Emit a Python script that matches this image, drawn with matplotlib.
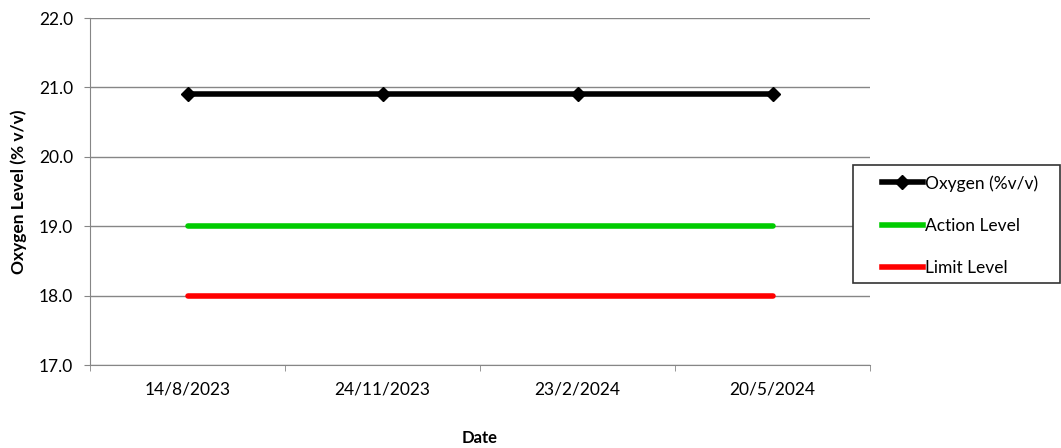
import numpy as np
import matplotlib.pyplot as plt
from matplotlib.lines import Line2D
from matplotlib.patches import Rectangle

plt.rcParams['font.family'] = ['Lato', 'DejaVu Sans']

dates = ["14/8/2023", "24/11/2023", "23/2/2024", "20/5/2024"]
oxygen = [20.9, 20.9, 20.9, 20.9]
action_level = [19.0, 19.0, 19.0, 19.0]
limit_level = [18.0, 18.0, 18.0, 18.0]

W, H = 1061, 448
fig = plt.figure(figsize=(W / 100, H / 100), dpi=100)
ax = fig.add_axes([90 / W, 1 - 365 / H, 780 / W, 347 / H])

x = np.arange(len(dates))
ax.plot(x, oxygen, color="black", lw=4, marker="D", ms=7, label="Oxygen (%v/v)", zorder=3)
ax.plot(x, action_level, color="#00CC00", lw=4, solid_capstyle="round", label="Action Level")
ax.plot(x, limit_level, color="#FF0000", lw=4, solid_capstyle="round", label="Limit Level")

yt = np.arange(17, 22.01, 1.0)
ax.set_xlim(-0.5, len(dates) - 0.5)
ax.set_ylim(17, 22)
ax.set_yticks(yt)
ax.set_yticklabels([f"{v:.1f}" for v in yt])
ax.set_xticks(x)
ax.set_xticklabels(dates)
ax.set_xticks(np.arange(-0.5, len(dates), 1.0), minor=True)
ax.tick_params(axis="x", which="major", length=0, pad=12, labelsize=12.5)
ax.tick_params(axis="x", which="minor", length=4, color="#868686", direction="out")
ax.tick_params(axis="y", length=4, color="#868686", labelsize=12.5, pad=8)

ax.grid(axis="y", color="#868686", lw=1)
ax.set_axisbelow(True)
for s in ["top", "right"]:
    ax.spines[s].set_visible(False)
ax.spines["left"].set_color("#868686")
ax.spines["bottom"].set_color("#868686")

ax.set_xlabel("Date", fontweight="bold", fontsize=12, labelpad=23)
ax.set_ylabel("Oxygen Level (% v/v)", fontweight="bold", fontsize=12.5, labelpad=9)

# legend frame drawn separately so the padding matches the reference
fig.patches.append(Rectangle((853 / W, 1 - 283 / H), 207 / W, 118 / H,
                             transform=fig.transFigure, fill=True, facecolor="white",
                             edgecolor="#333333", lw=1.2, zorder=5))
handles = [
    Line2D([], [], color="black", lw=4, marker="D", ms=7),
    Line2D([], [], color="#00CC00", lw=4),
    Line2D([], [], color="#FF0000", lw=4),
]
leg = fig.legend(handles, ["Oxygen (%v/v)", "Action Level", "Limit Level"],
                 loc="upper left", bbox_to_anchor=(882 / W, 1 - 175 / H),
                 frameon=False, fontsize=12.5, handlelength=2.35, handletextpad=0.15,
                 labelspacing=1.5, borderpad=0, borderaxespad=0)
leg.set_zorder(6)

fig.savefig("out.png", dpi=100)
